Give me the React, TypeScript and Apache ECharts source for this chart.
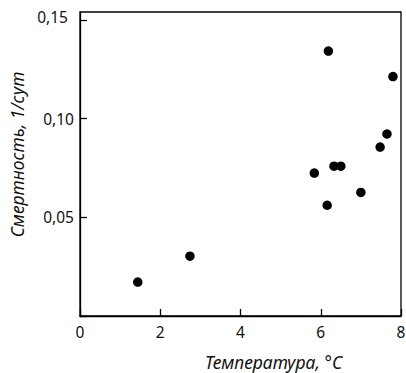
import React, { useEffect, useRef } from "react";
import * as echarts from "echarts";

const temperature = [1.44, 2.74, 5.84, 6.16, 6.19, 6.33, 6.5, 7.0, 7.48, 7.65, 7.8];
const mortality = [0.0172, 0.0303, 0.0724, 0.0561, 0.1342, 0.0759, 0.0759, 0.0626, 0.0856, 0.0922, 0.1213];
const xTicks = [0, 2, 4, 6, 8];
const yTicks = [0.05, 0.1, 0.15];
const xName = "Температура, °C";
const yName = "Смертность, 1/сут";

const FONT = "Noto Sans";

export default function App() {
  const ref = useRef<HTMLDivElement>(null);
  useEffect(() => {
    if (!ref.current) return;
    const chart = echarts.init(ref.current, undefined, { renderer: "svg" });
    const points = temperature.map((t, i) => [t, mortality[i]]);
    chart.setOption({
      animation: false,
      backgroundColor: "#fff",
      grid: {
        left: 80,
        top: 12,
        right: 5,
        bottom: 57,
        containLabel: false,
        outerBoundsMode: "none",
        show: true,
        borderColor: "#000",
        borderWidth: 1.3,
        backgroundColor: "transparent",
      },
      xAxis: {
        type: "value",
        min: xTicks[0],
        max: xTicks[xTicks.length - 1],
        interval: 2,
        name: xName,
        nameLocation: "middle",
        nameGap: 37,
        nameTextStyle: {
          fontFamily: FONT,
          fontStyle: "italic",
          fontSize: 17.5,
          lineHeight: 18,
          color: "#111",
          padding: [0, 0, 0, 66],
        },
        axisLine: { show: true, lineStyle: { color: "#000", width: 1.3 } },
        axisTick: { show: true, inside: true, length: 7, lineStyle: { color: "#000", width: 1.3 } },
        splitLine: { show: false },
        axisLabel: {
          fontFamily: FONT,
          fontSize: 15.5,
          color: "#111",
          margin: 8,
          formatter: (v: number) => (xTicks.includes(v) ? String(v) : ""),
        },
      },
      yAxis: {
        type: "value",
        min: 0,
        max: 0.154,
        interval: 0.05,
        name: yName,
        nameLocation: "middle",
        nameGap: 53,
        nameRotate: 90,
        nameTextStyle: {
          fontFamily: FONT,
          fontStyle: "italic",
          fontSize: 17.5,
          color: "#111",
          padding: [0, 0, 0, 19],
        },
        axisLine: { show: true, lineStyle: { color: "#000", width: 1.3 } },
        axisTick: { show: true, inside: true, length: 7, lineStyle: { color: "#000", width: 1.3 } },
        splitLine: { show: false },
        axisLabel: {
          fontFamily: FONT,
          fontSize: 15.5,
          color: "#111",
          margin: 6,
          showMaxLabel: false,
          formatter: (v: number) => {
            const hit = yTicks.find((t) => Math.abs(t - v) < 1e-6);
            if (hit === undefined) return "";
            const s = hit.toFixed(2).replace(".", ",");
            return hit === yTicks[yTicks.length - 1] ? "{top|" + s + "}" : s;
          },
          rich: {
            top: {
              fontFamily: FONT,
              fontSize: 15.5,
              color: "#111",
              padding: [0, 6, 6, 0],
            },
          },
        },
      },
      series: [
        {
          type: "scatter",
          data: points,
          symbol: "circle",
          symbolSize: 9.5,
          itemStyle: { color: "#000", opacity: 1 },
        },
      ],
    });
    return () => chart.dispose();
  }, []);
  return (
    <div
      ref={ref}
      style={{ position: "fixed", left: 0, top: 0, width: 406, height: 373 }}
    />
  );
}
